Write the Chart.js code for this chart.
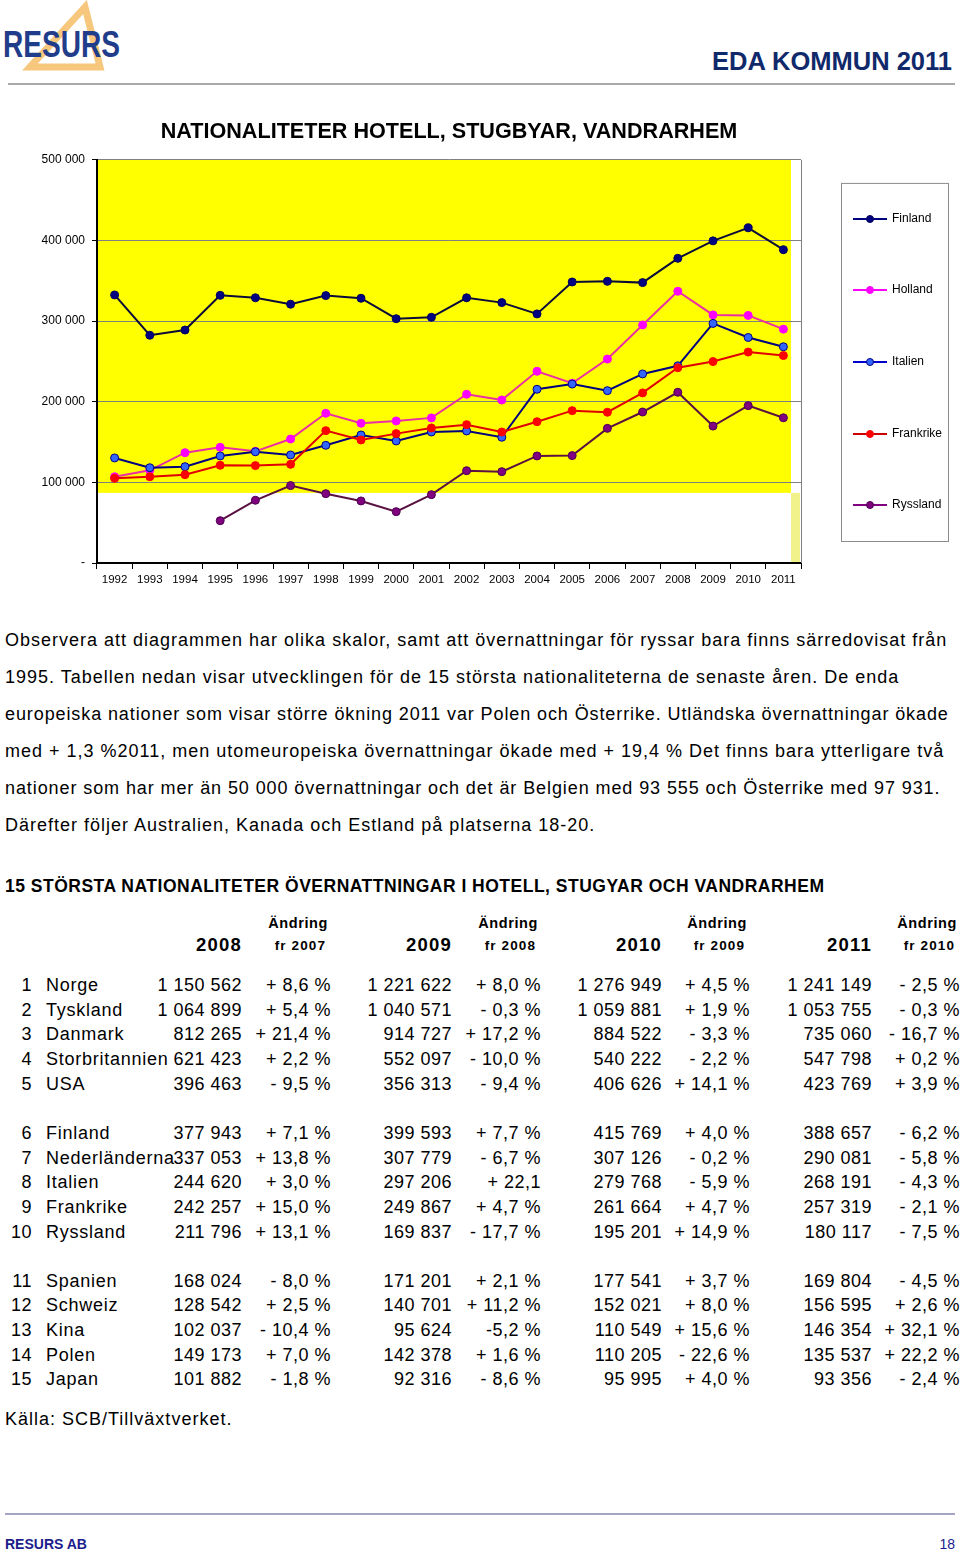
<!DOCTYPE html>
<html lang="sv">
<head>
<meta charset="utf-8">
<title>Eda kommun 2011 – nationaliteter</title>
<script src="https://cdn.jsdelivr.net/npm/chart.js@4.4.1/dist/chart.umd.min.js"></script>
<style>
  body { margin: 0; width: 960px; height: 1556px; position: relative; background: #fff;
         font-family: "Liberation Sans", Arial, sans-serif; color: #000; overflow: hidden; }
  .abs { position: absolute; white-space: nowrap; }
  #eda { right: 8px; top: 46px; font-size: 25.5px; line-height: 30px; font-weight: bold; color: #10296b; }
  #hr1 { left: 8px; top: 83px; width: 947px; height: 2px; background: #a9a9a9; }
  #chartBox { left: 0; top: 100px; }
  .para { left: 5px; font-size: 18px; line-height: 20px; letter-spacing: 1px; }
  #tblHead { left: 5px; top: 876px; font-size: 17.5px; line-height: 20px; font-weight: bold; letter-spacing: 0.5px; }
  .cell { font-size: 18px; line-height: 22px; letter-spacing: 0.5px; }
  .name { letter-spacing: 0.75px; }
  .hdr { font-weight: bold; }
  #kalla { left: 5px; top: 1409px; font-size: 18px; line-height: 20px; letter-spacing: 1px; }
  #hr2 { left: 5px; top: 1513px; width: 950px; height: 2px; background: #a4a4c4; }
  #foot { left: 5px; top: 1535px; font-size: 14px; line-height: 18px; font-weight: bold; color: #1c1c8c; }
  #page { right: 5px; top: 1535px; font-size: 14px; line-height: 18px; color: #1c1c8c; }
</style>
</head>
<body>

<svg class="abs" style="left:0;top:0" width="140" height="80">
  <polygon points="85,7 30,67 100,67" fill="none" stroke="#f6c77d" stroke-width="7" stroke-linejoin="miter"/>
  <text x="3" y="57" font-family="Liberation Sans, Arial, sans-serif" font-weight="bold" font-size="37"
        fill="#1f3d8a" textLength="117" lengthAdjust="spacingAndGlyphs">RESURS</text>
</svg>
<div id="eda" class="abs">EDA KOMMUN 2011</div>
<div id="hr1" class="abs"></div>

<div id="chartBox" class="abs"><canvas id="chart" width="960" height="500"></canvas></div>

<div class="abs para" style="top:630px">Observera att diagrammen har olika skalor, samt att övernattningar för ryssar bara finns särredovisat från</div>
<div class="abs para" style="top:667px">1995. Tabellen nedan visar utvecklingen för de 15 största nationaliteterna de senaste åren. De enda</div>
<div class="abs para" style="top:704px;letter-spacing:0.9px">europeiska nationer som visar större ökning 2011 var Polen och Österrike. Utländska övernattningar ökade</div>
<div class="abs para" style="top:741px">med + 1,3 %2011, men utomeuropeiska övernattningar ökade med + 19,4 % Det finns bara ytterligare två</div>
<div class="abs para" style="top:778px;letter-spacing:0.91px">nationer som har mer än 50 000 övernattningar och det är Belgien med 93 555 och Österrike med 97 931.</div>
<div class="abs para" style="top:815px">Därefter följer Australien, Kanada och Estland på platserna 18-20.</div>

<div id="tblHead" class="abs">15 STÖRSTA NATIONALITETER ÖVERNATTNINGAR I HOTELL, STUGYAR OCH VANDRARHEM</div>
<div id="table"></div>

<div id="kalla" class="abs">Källa: SCB/Tillväxtverket.</div>
<div id="hr2" class="abs"></div>
<div id="foot" class="abs">RESURS AB</div>
<div id="page" class="abs">18</div>

<script>
// chart data (overnight stays per nationality, 1992-2011)
const years = ['1992', '1993', '1994', '1995', '1996', '1997', '1998', '1999', '2000', '2001',
               '2002', '2003', '2004', '2005', '2006', '2007', '2008', '2009', '2010', '2011'];
const finland = [332500, 282500, 289000, 332000, 329000, 321000, 331700, 328400, 303000, 304800,
                 329000, 323000, 309000, 348600, 349400, 347800, 377943, 399593, 415769, 388657];
const holland = [107000, 115000, 136800, 143500, 138500, 153800, 185700, 173300, 176200, 180000,
                 209300, 202200, 237800, 223000, 253000, 295300, 337053, 307779, 307126, 290081];
const italien = [130300, 118200, 119500, 132800, 138000, 134000, 146000, 158800, 151400, 162500,
                 163800, 156000, 215500, 222000, 213800, 234500, 244620, 297206, 279768, 268191];
const frankrike = [105000, 107000, 109600, 121200, 120800, 122400, 164200, 152600, 160500, 167500,
                   171600, 162500, 175300, 189000, 187000, 211000, 242257, 249867, 261664, 257319];
const ryssland = [null, null, null, 52500, 77800, 96000, 86000, 77000, 63700, 84800,
                  114500, 113300, 132800, 133200, 167000, 187300, 211796, 169837, 195201, 180117];
const yMax = 500000;
const yStep = 100000;
const yellowFloor = 87000; // yellow plot fill stops here (as in the original)

// table data
const tblYears = ['2008', '2009', '2010', '2011'];
const tblRanks = ['1', '2', '3', '4', '5', '6', '7', '8', '9', '10', '11', '12', '13', '14', '15'];
const tblNames = ['Norge', 'Tyskland', 'Danmark', 'Storbritannien', 'USA', 'Finland', 'Nederländerna',
                  'Italien', 'Frankrike', 'Ryssland', 'Spanien', 'Schweiz', 'Kina', 'Polen', 'Japan'];
const v2008 = ['1 150 562', '1 064 899', '812 265', '621 423', '396 463', '377 943', '337 053', '244 620',
               '242 257', '211 796', '168 024', '128 542', '102 037', '149 173', '101 882'];
const c2008 = ['+ 8,6 %', '+ 5,4 %', '+ 21,4 %', '+ 2,2 %', '- 9,5 %', '+ 7,1 %', '+ 13,8 %', '+ 3,0 %',
               '+ 15,0 %', '+ 13,1 %', '- 8,0 %', '+ 2,5 %', '- 10,4 %', '+ 7,0 %', '- 1,8 %'];
const v2009 = ['1 221 622', '1 040 571', '914 727', '552 097', '356 313', '399 593', '307 779', '297 206',
               '249 867', '169 837', '171 201', '140 701', '95 624', '142 378', '92 316'];
const c2009 = ['+ 8,0 %', '- 0,3 %', '+ 17,2 %', '- 10,0 %', '- 9,4 %', '+ 7,7 %', '- 6,7 %', '+ 22,1',
               '+ 4,7 %', '- 17,7 %', '+ 2,1 %', '+ 11,2 %', '-5,2 %', '+ 1,6 %', '- 8,6 %'];
const v2010 = ['1 276 949', '1 059 881', '884 522', '540 222', '406 626', '415 769', '307 126', '279 768',
               '261 664', '195 201', '177 541', '152 021', '110 549', '110 205', '95 995'];
const c2010 = ['+ 4,5 %', '+ 1,9 %', '- 3,3 %', '- 2,2 %', '+ 14,1 %', '+ 4,0 %', '- 0,2 %', '- 5,9 %',
               '+ 4,7 %', '+ 14,9 %', '+ 3,7 %', '+ 8,0 %', '+ 15,6 %', '- 22,6 %', '+ 4,0 %'];
const v2011 = ['1 241 149', '1 053 755', '735 060', '547 798', '423 769', '388 657', '290 081', '268 191',
               '257 319', '180 117', '169 804', '156 595', '146 354', '135 537', '93 356'];
const c2011 = ['- 2,5 %', '- 0,3 %', '- 16,7 %', '+ 0,2 %', '+ 3,9 %', '- 6,2 %', '- 5,8 %', '- 4,3 %',
               '- 2,1 %', '- 7,5 %', '- 4,5 %', '+ 2,6 %', '+ 32,1 %', '+ 22,2 %', '- 2,4 %'];

const FONT = '"Liberation Sans", Arial, sans-serif';

function fmt(v) {
    if (v === 0) return '-';
    return String(v).replace(/\B(?=(\d{3})+(?!\d))/g, ' ');
}

// yellow plot background + right frame line
const plotBack = {
    id: 'plotBack',
    beforeDraw(chart) {
        const {ctx, chartArea: a, scales: {y}} = chart;
        const yb = y.getPixelForValue(yellowFloor);
        ctx.save();
        ctx.fillStyle = '#ffff00';
        ctx.fillRect(a.left, a.top, a.right - 10 - a.left, yb - a.top);
        ctx.fillStyle = '#f2f28a';
        ctx.fillRect(a.right - 10, yb, 9, a.bottom - yb - 1);
        ctx.restore();
    },
    beforeDatasetsDraw(chart) {
        const {ctx, chartArea: a} = chart;
        ctx.save();
        ctx.strokeStyle = '#808080';
        ctx.lineWidth = 1;
        ctx.beginPath();
        ctx.moveTo(a.right + 0.5, a.top);
        ctx.lineTo(a.right + 0.5, a.bottom);
        ctx.stroke();
        ctx.restore();
    }
};

// boxed legend to the right, items spread over the box height
const boxLegend = {
    id: 'boxLegend',
    afterDraw(chart) {
        const {ctx, chartArea: a} = chart;
        const left = a.right + 40, top = a.top + 23;
        const w = 107, h = a.bottom - 22 - top;
        const sets = chart.data.datasets;
        ctx.save();
        ctx.fillStyle = '#fff';
        ctx.fillRect(left, top, w, h);
        ctx.strokeStyle = '#8c8c8c';
        ctx.lineWidth = 1;
        ctx.strokeRect(left + 0.5, top + 0.5, w, h);
        sets.forEach((ds, i) => {
            const cy = Math.round(top + (i + 0.5) * h / sets.length);
            ctx.strokeStyle = ds.legendLine;
            ctx.lineWidth = 2;
            ctx.beginPath();
            ctx.moveTo(left + 12, cy);
            ctx.lineTo(left + 46, cy);
            ctx.stroke();
            ctx.beginPath();
            ctx.arc(left + 29, cy, 3.5, 0, Math.PI * 2);
            ctx.fillStyle = ds.pointBackgroundColor;
            ctx.fill();
            ctx.lineWidth = 1;
            ctx.strokeStyle = ds.pointBorderColor;
            ctx.stroke();
            ctx.fillStyle = '#000';
            ctx.font = '12px ' + FONT;
            ctx.textBaseline = 'middle';
            ctx.textAlign = 'left';
            ctx.fillText(ds.label, left + 51, cy);
        });
        ctx.restore();
    }
};

function series(label, data, line, fill, edge, legendLine, order) {
    return {
        label, data, order, legendLine,
        borderColor: line, borderWidth: 2,
        pointBackgroundColor: fill, pointBorderColor: edge,
        pointRadius: 4, pointBorderWidth: 1, pointHoverRadius: 4,
        tension: 0, spanGaps: false
    };
}

const ctx = document.getElementById('chart').getContext('2d');
const chart = new Chart(ctx, {
    type: 'line',
    data: {
        labels: years,
        datasets: [
            series('Finland', finland, '#0b0b3a', '#000080', '#00005a', '#000080', 5),
            series('Holland', holland, '#ea2fa4', '#ff00ff', '#ff00ff', '#ff00ff', 4),
            series('Italien', italien, '#000080', '#3366ff', '#000080', '#0000cc', 3),
            series('Frankrike', frankrike, '#e00000', '#ff0000', '#ff0000', '#cc0000', 2),
            series('Ryssland', ryssland, '#5a1040', '#800080', '#4b0050', '#800080', 1)
        ]
    },
    options: {
        responsive: false,
        animation: false,
        layout: {padding: {left: 37, right: 159, top: 0, bottom: 12}},
        plugins: {
            legend: {display: false},
            tooltip: {enabled: false},
            title: {
                display: true,
                fullSize: false,
                text: 'NATIONALITETER HOTELL, STUGBYAR, VANDRARHEM',
                color: '#000',
                font: {family: FONT, size: 21.6, weight: 'bold'},
                padding: {top: 19, bottom: 15}
            }
        },
        scales: {
            x: {
                offset: true,
                grid: {offset: true, drawOnChartArea: false, tickLength: 6, tickColor: '#000'},
                border: {color: '#000', width: 2},
                ticks: {color: '#000', font: {family: FONT, size: 11.5}, padding: 4,
                        maxRotation: 0, autoSkip: false},
                afterFit: s => { s.height = 25; }
            },
            y: {
                min: 0,
                max: yMax,
                grid: {color: '#808080', tickColor: '#000', tickLength: 5},
                border: {color: '#000', width: 2},
                ticks: {stepSize: yStep, padding: 7, color: '#000',
                        font: {family: FONT, size: 12}, callback: v => fmt(v)},
                afterFit: s => { s.width = 60; }
            }
        }
    },
    plugins: [plotBack, boxLegend]
});

// build the table with absolutely placed cells
(function buildTable() {
    const host = document.getElementById('table');
    const valRight = [242, 452, 662, 872];
    const chgRight = [331, 541, 750, 960];
    const values = [v2008, v2009, v2010, v2011];
    const changes = [c2008, c2009, c2010, c2011];

    function cell(text, y, opts) {
        const d = document.createElement('div');
        d.className = 'abs cell' + (opts.cls ? ' ' + opts.cls : '');
        d.textContent = text;
        d.style.top = (y - 11) + 'px';
        if (opts.right !== undefined) d.style.right = (960 - opts.right) + 'px';
        if (opts.left !== undefined) d.style.left = opts.left + 'px';
        if (opts.style) Object.assign(d.style, opts.style);
        host.appendChild(d);
    }

    // header
    tblYears.forEach((yr, k) => {
        cell(yr, 945, {right: valRight[k], cls: 'hdr', style: {fontSize: '18.5px', letterSpacing: '1.2px'}});
        cell('Ändring', 923, {right: chgRight[k] - 3, cls: 'hdr', style: {fontSize: '14.5px', letterSpacing: '0.6px'}});
        const prev = String(Number(yr) - 1);
        cell('fr ' + prev, 946, {right: chgRight[k] - 5, cls: 'hdr', style: {fontSize: '13.5px', letterSpacing: '1.1px'}});
    });

    // rows, grouped by five with a blank line between
    tblRanks.forEach((rank, i) => {
        const slot = i + Math.floor(i / 5);
        const y = 985 + slot * 24.65;
        cell(rank, y, {right: 32});
        cell(tblNames[i], y, {left: 46, cls: 'name'});
        for (let k = 0; k < 4; k++) {
            cell(values[k][i], y, {right: valRight[k]});
            cell(changes[k][i], y, {right: chgRight[k]});
        }
    });
})();
</script>
</body>
</html>
